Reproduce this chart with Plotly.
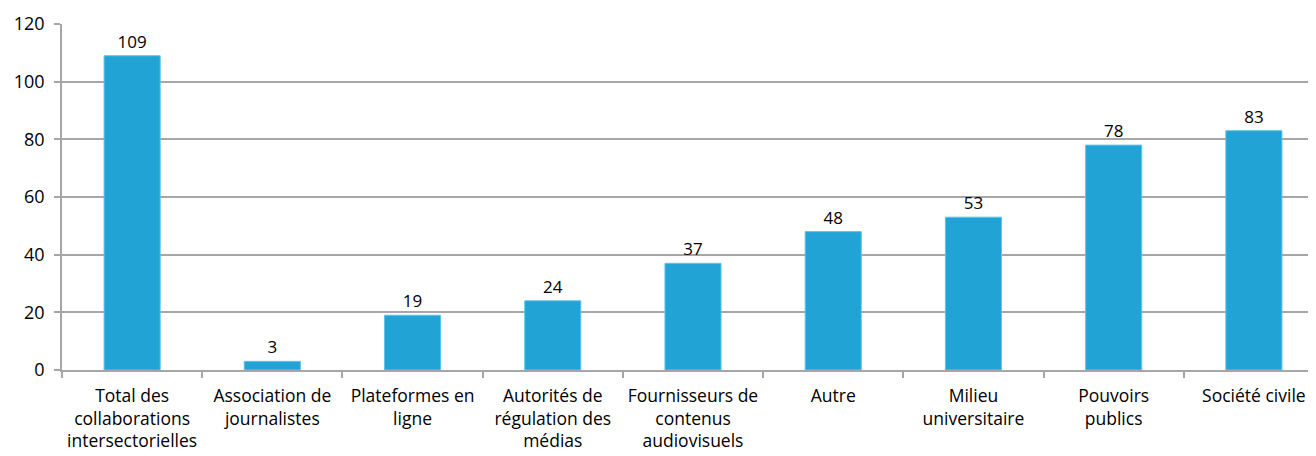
import plotly.graph_objects as go

categories = [
    "Total des<br>collaborations<br>intersectorielles",
    "Association de<br>journalistes",
    "Plateformes en<br>ligne",
    "Autorités de<br>régulation des<br>médias",
    "Fournisseurs de<br>contenus<br>audiovisuels",
    "Autre",
    "Milieu<br>universitaire",
    "Pouvoirs<br>publics",
    "Société civile",
]
values = [109, 3, 19, 24, 37, 48, 53, 78, 83]
y_ticks = [0, 20, 40, 60, 80, 100, 120]

FONT = "Open Sans, Lato, sans-serif"
GRID = "#a6a6a6"

fig = go.Figure(
    go.Bar(
        x=categories,
        y=values,
        marker=dict(color="#22a3d6", line=dict(color="#5ec4ea", width=1)),
        text=[str(v) for v in values],
        textposition="outside",
        textfont=dict(family=FONT, size=17, color="#000000"),
        cliponaxis=False,
    )
)

fig.update_layout(
    width=1316,
    height=456,
    margin=dict(l=54, r=0, t=16, b=94, autoexpand=False),
    paper_bgcolor="white",
    plot_bgcolor="white",
    bargap=0.6,
    showlegend=False,
    font=dict(family=FONT, size=17, color="#000000"),
)
fig.update_xaxes(
    type="category",
    automargin=False,
    tickangle=0,
    showline=True,
    linecolor=GRID,
    linewidth=1.5,
    ticks="outside",
    tickson="boundaries",
    ticklen=6,
    tickcolor=GRID,
    tickwidth=1.5,
    showgrid=False,
    ticklabelstandoff=9,
    tickfont=dict(family=FONT, size=17.5, color="#000000"),
)
fig.update_yaxes(
    range=[0, 120],
    automargin=False,
    tickvals=y_ticks,
    showline=True,
    linecolor=GRID,
    linewidth=1.5,
    ticks="outside",
    ticklen=6,
    tickcolor=GRID,
    tickwidth=1.5,
    showgrid=True,
    gridcolor=GRID,
    gridwidth=1.5,
    zeroline=False,
    ticklabelstandoff=6,
    tickfont=dict(family=FONT, size=18, color="#000000"),
)

fig.write_html("out.html")
